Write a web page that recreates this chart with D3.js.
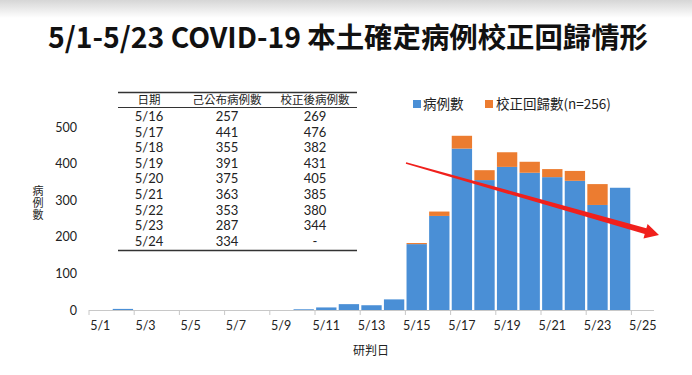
<!DOCTYPE html>
<html><head><meta charset="utf-8">
<script src="https://cdn.jsdelivr.net/npm/d3@7"></script>
<style>
html,body{margin:0;padding:0;background:#fff;}
svg{display:block;}
</style></head>
<body>
<svg id="c" width="692" height="375"></svg>
<script>
// ---- data ----
const dates = ["5/1","5/2","5/3","5/4","5/5","5/6","5/7","5/8","5/9","5/10","5/11","5/12","5/13","5/14","5/15","5/16","5/17","5/18","5/19","5/20","5/21","5/22","5/23","5/24","5/25"];
const published = [0,3,0,0,0,0,0,0,0,2,7,16,13,29,180,257,441,355,391,375,363,353,287,334,0];
const correction = [0,0,0,0,0,0,0,0,0,0,0,0,0,0,3,12,35,27,40,30,22,27,57,0,0];
const yTicks = [0,100,200,300,400,500];
const xLabels = ["5/1","5/3","5/5","5/7","5/9","5/11","5/13","5/15","5/17","5/19","5/21","5/23","5/25"];
const tableHeader = ["日期","己公布病例數","校正後病例數"];
const tableDates = ["5/16","5/17","5/18","5/19","5/20","5/21","5/22","5/23","5/24"];
const tablePublished = ["257","441","355","391","375","363","353","287","334"];
const tableCorrected = ["269","476","382","431","405","385","380","344","-"];
const legendLabels = ["病例數","校正回歸數(n=256)"];
const titleText = "5/1-5/23 COVID-19 本土確定病例校正回歸情形";

const BLUE = "#4a8fd6", ORANGE = "#ec7c30";
const FONT = "'Noto Sans CJK TC','Noto Sans',sans-serif";
const NUMFONT = "Lato,'Noto Sans',sans-serif";

const svg = d3.select("#c");
const defs = svg.append("defs");
const g0 = defs.append("linearGradient").attr("id","topg").attr("x1",0).attr("y1",0).attr("x2",0).attr("y2",1);
g0.append("stop").attr("offset","0%").attr("stop-color","#d6d6d6");
g0.append("stop").attr("offset","100%").attr("stop-color","#ffffff");
svg.append("rect").attr("x",0).attr("y",0).attr("width",692).attr("height",18).attr("fill","url(#topg)");

// title
svg.append("text").attr("x",348).attr("y",48).attr("text-anchor","middle")
  .attr("font-family",FONT).attr("font-weight",700).attr("font-size",28.5).attr("fill","#111")
  .attr("textLength",600).attr("lengthAdjust","spacingAndGlyphs")
  .text(titleText);

// scales
const x = d3.scaleBand().domain(dates).range([89,654]).paddingInner(0.1).paddingOuter(0.05);
const y = d3.scaleLinear().domain([0,500]).range([310,127]);

// y axis labels
const yAxis = d3.axisLeft(y).tickValues(yTicks).tickSize(0).tickPadding(0);
const ya = svg.append("g").attr("transform","translate(77,0)").call(yAxis);
ya.select(".domain").remove();
ya.selectAll("text").attr("font-family",NUMFONT).attr("font-size",12.5).attr("fill","#222");

// bars
const step = x.step();
const bars = svg.append("g");
dates.forEach((d,i)=>{
  if (published[i]>0) bars.append("rect").attr("x",x(d)).attr("width",x.bandwidth())
    .attr("y",y(published[i])).attr("height",y(0)-y(published[i])).attr("fill",BLUE);
  if (correction[i]>0) bars.append("rect").attr("x",x(d)).attr("width",x.bandwidth())
    .attr("y",y(published[i]+correction[i])).attr("height",y(published[i])-y(published[i]+correction[i])).attr("fill",ORANGE);
});

// x axis
svg.append("line").attr("x1",89).attr("x2",654).attr("y1",310.5).attr("y2",310.5).attr("stroke","#c8c8c8").attr("stroke-width",1);
xLabels.forEach(l=>{
  const left = x(l) - step*x.paddingInner()/2;
  svg.append("line").attr("x1",left).attr("x2",left).attr("y1",310).attr("y2",315).attr("stroke","#c8c8c8");
  svg.append("text").attr("x",x(l)+x.bandwidth()/2).attr("y",330).attr("text-anchor","middle")
    .attr("font-family",NUMFONT).attr("font-size",12.5).attr("fill","#222").text(l);
});
svg.append("text").attr("x",371).attr("y",355).attr("text-anchor","middle")
  .attr("font-family",FONT).attr("font-size",12).attr("fill","#222").text("研判日");

// y title vertical
svg.append("text").attr("x",38).attr("y",185)
  .attr("font-family",FONT).attr("font-size",11).attr("fill","#222")
  .style("writing-mode","vertical-rl").style("letter-spacing","1px")
  .text("病例數");

// legend
const lg = svg.append("g").attr("font-family",FONT).attr("font-size",13.5).attr("fill","#222");
lg.append("rect").attr("x",413).attr("y",100).attr("width",8).attr("height",8).attr("fill",BLUE);
lg.append("text").attr("x",423).attr("y",109).text(legendLabels[0]);
lg.append("rect").attr("x",485).attr("y",100).attr("width",8).attr("height",8).attr("fill",ORANGE);
lg.append("text").attr("x",496).attr("y",109).text(legendLabels[1]);

// table
const tb = svg.append("g").attr("fill","#222");
const colX = [149,227,315];
tb.append("line").attr("x1",118).attr("x2",357).attr("y1",92.5).attr("y2",92.5).attr("stroke","#333").attr("stroke-width",1.6);
tb.append("line").attr("x1",118).attr("x2",357).attr("y1",107.5).attr("y2",107.5).attr("stroke","#333").attr("stroke-width",1);
tb.append("line").attr("x1",118).attr("x2",357).attr("y1",250.5).attr("y2",250.5).attr("stroke","#333").attr("stroke-width",1.4);
tableHeader.forEach((h,i)=>{
  tb.append("text").attr("x",colX[i]).attr("y",104).attr("text-anchor","middle")
    .attr("font-family",FONT).attr("font-size",11.5).text(h);
});
tableDates.forEach((d,r)=>{
  const yy = 121 + r*15.6;
  [d, tablePublished[r], tableCorrected[r]].forEach((v,i)=>{
    tb.append("text").attr("x",colX[i]).attr("y",yy).attr("text-anchor","middle")
      .attr("font-family",NUMFONT).attr("font-size",13).text(v);
  });
});

// red arrow (tapered)
const x0=406,y0=163,x1=659,y1=235;
const ang = Math.atan2(y1-y0,x1-x0);
const L = Math.hypot(x1-x0,y1-y0);
const headL = 14, headW = 7.5, w0 = 0.8, w1 = 3;
const pts = [[0,-w0],[L-headL,-w1],[L-headL,-headW],[L,0],[L-headL,headW],[L-headL,w1],[0,w0]];
svg.append("polygon")
  .attr("points", pts.map(p=>[x0+p[0]*Math.cos(ang)-p[1]*Math.sin(ang), y0+p[0]*Math.sin(ang)+p[1]*Math.cos(ang)].join(",")).join(" "))
  .attr("fill","#f0201c");
</script>
</body></html>
